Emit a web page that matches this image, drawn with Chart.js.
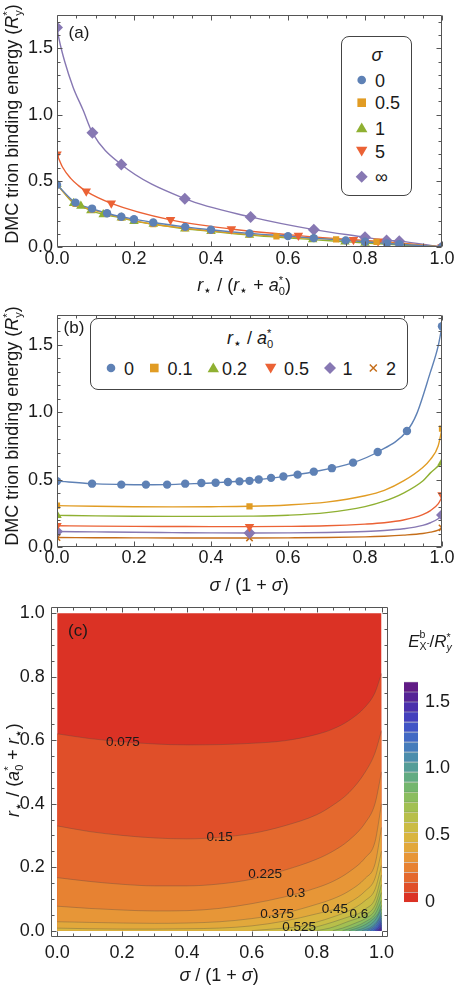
<!DOCTYPE html>
<html><head><meta charset="utf-8">
<script src="https://cdn.jsdelivr.net/npm/chart.js@4.4.1/dist/chart.umd.min.js"></script>
<style>
html,body{margin:0;padding:0;background:#fff;}
body{width:460px;height:992px;position:relative;overflow:hidden;font-family:"Liberation Sans",Arial,sans-serif;color:#1a1a1a;}
canvas{position:absolute;}
.lbl{position:absolute;white-space:nowrap;font-size:18px;line-height:1;}
.rot{transform:translate(-50%,-50%) rotate(-90deg);}
.ctr{transform:translate(-50%,-50%);}
.st{display:inline-block;vertical-align:-0.32em;font-size:0.62em;line-height:0.95;text-align:left;}
.st span{display:block;}
.sb{font-size:0.75em;vertical-align:-0.25em;line-height:0;}
.leg{position:absolute;border:1px solid #444;border-radius:8px;background:#fff;}
</style></head>
<body>
<canvas id="cA" width="460" height="300" style="left:0;top:0"></canvas>
<canvas id="cB" width="460" height="300" style="left:0;top:300px"></canvas>
<canvas id="cC" width="400" height="402" style="left:0;top:590px"></canvas>
<canvas id="cBar" width="70" height="260" style="left:390px;top:660px"></canvas>

<div class="lbl rot" style="left:13px;top:124px">DMC trion binding energy (<i>R</i><span class="st"><span>*</span><span>y</span></span>)</div>
<div class="lbl rot" style="left:13px;top:426px">DMC trion binding energy (<i>R</i><span class="st"><span>*</span><span>y</span></span>)</div>
<div class="lbl rot" style="left:14px;top:770px"><i>r</i><span class="sb">⋆</span> / (<i>a</i><span class="st"><span>*</span><span>0</span></span> + <i>r</i><span class="sb">⋆</span>)</div>
<div class="lbl ctr" style="left:244px;top:286px"><i>r</i><span class="sb">⋆</span> / (<i>r</i><span class="sb">⋆</span> + <i>a</i><span class="st"><span>*</span><span>0</span></span>)</div>
<div class="lbl ctr" style="left:249px;top:585px"><i>σ</i> / (1 + <i>σ</i>)</div>
<div class="lbl ctr" style="left:219px;top:975px"><i>σ</i> / (1 + <i>σ</i>)</div>
<div class="lbl ctr" style="left:79px;top:32px;font-size:17px">(a)</div>
<div class="lbl ctr" style="left:74px;top:327px;font-size:17px">(b)</div>
<div class="lbl ctr" style="left:78px;top:630px;font-size:17px">(c)</div>
<div class="lbl ctr" style="left:430px;top:640px;font-size:17px"><i>E</i><span class="st"><span>b</span><span>X<sup style="font-size:0.8em">-</sup></span></span>/<i>R</i><span class="st"><span>*</span><span><i>y</i></span></span></div>

<div class="leg" style="left:341px;top:36px;width:69px;height:158px"></div>
<svg style="position:absolute;left:0;top:0" width="460" height="300">
  <g font-size="18" font-family="Liberation Sans" fill="#1a1a1a">
  <text x="377" y="61" font-style="italic" text-anchor="middle">σ</text>
  <circle cx="361.7" cy="80" r="4.3" fill="#5e81b5"/><text x="375" y="86.5">0</text>
  <rect x="357.4" y="98.4" width="8.6" height="8.6" fill="#e19c24"/><text x="375" y="109">0.5</text>
  <polygon points="361.7,122.5 356,132.3 367.4,132.3" fill="#8fb032"/><text x="375" y="134.5">1</text>
  <polygon points="361.7,156.5 356,146.7 367.4,146.7" fill="#eb6235"/><text x="375" y="158">5</text>
  <polygon points="361.7,170.7 367.7,176.7 361.7,182.7 355.7,176.7" fill="#8778b3"/><text x="375" y="183">∞</text>
  </g>
</svg>
<div class="leg" style="left:90px;top:318px;width:316px;height:70px"></div>
<div class="lbl ctr" style="left:250px;top:339px"><i>r</i><span class="sb">⋆</span> / <i>a</i><span class="st"><span>*</span><span>0</span></span></div>
<svg style="position:absolute;left:0;top:300px" width="460" height="100">
  <g font-size="18" font-family="Liberation Sans" fill="#1a1a1a">
  <circle cx="111" cy="68" r="4.3" fill="#5e81b5"/><text x="124" y="74.5">0</text>
  <rect x="150" y="63.7" width="8.6" height="8.6" fill="#e19c24"/><text x="167.5" y="74.5">0.1</text>
  <polygon points="213.3,62.5 207.6,72.3 219,72.3" fill="#8fb032"/><text x="222" y="74.5">0.2</text>
  <polygon points="270.7,73.5 265,63.7 276.4,63.7" fill="#eb6235"/><text x="284" y="74.5">0.5</text>
  <polygon points="330,62 336,68 330,74 324,68" fill="#8778b3"/><text x="342.5" y="74.5">1</text>
  <path d="M369.8,64.5 L376.8,71.5 M376.8,64.5 L369.8,71.5" stroke="#c56e1a" stroke-width="1.5"/><text x="386" y="74.5">2</text>
  </g>
</svg>

<script>
// ================= DATA =================
// Panel (a): x = r*/(r*+a0*), y = binding energy, one series per sigma
const aX_s0   = [0, 0.048, 0.091, 0.13, 0.167, 0.2, 0.25, 0.333, 0.4, 0.5, 0.6, 0.667, 0.75, 0.8, 0.857, 0.889, 1];
const aY_s0   = [0.47, 0.335, 0.29, 0.255, 0.228, 0.21, 0.185, 0.152, 0.13, 0.103, 0.082, 0.067, 0.05, 0.04, 0.027, 0.021, 0];
const aX_s05  = [0, 0.048, 0.091, 0.13, 0.167, 0.25, 0.333, 0.4, 0.5, 0.57, 0.667, 0.725, 0.83, 1];
const aY_s05  = [0.468, 0.325, 0.283, 0.25, 0.222, 0.172, 0.142, 0.122, 0.095, 0.08, 0.066, 0.058, 0.038, 0];
const aX_s1   = [0, 0.043, 0.062, 0.088, 0.12, 0.167, 0.2, 0.25, 0.332, 0.4, 0.5, 0.664, 0.748, 0.8, 1];
const aY_s1   = [0.476, 0.33, 0.31, 0.275, 0.246, 0.22, 0.195, 0.173, 0.138, 0.118, 0.09, 0.056, 0.04, 0.03, 0];
const aX_s5   = [0, 0.076, 0.141, 0.295, 0.453, 0.627, 0.77, 0.834, 1];
const aY_s5   = [0.70, 0.42, 0.33, 0.205, 0.136, 0.086, 0.055, 0.044, 0];
const aX_sInf = [0, 0.092, 0.167, 0.332, 0.503, 0.667, 0.8, 0.856, 0.889, 1];
const aY_sInf = [1.657, 0.862, 0.623, 0.365, 0.227, 0.131, 0.074, 0.05, 0.044, 0];
// fitted curves of panel (a) where they bend most
const aLX_s5   = [0, 0.015, 0.035, 0.055, 0.076, 0.141, 0.295, 0.453, 0.627, 0.77, 0.834, 1];
const aLY_s5   = [0.70, 0.60, 0.52, 0.465, 0.42, 0.33, 0.205, 0.136, 0.086, 0.055, 0.044, 0];
const aLX_sInf = [0, 0.005, 0.02, 0.042, 0.068, 0.092, 0.167, 0.332, 0.503, 0.667, 0.8, 0.856, 0.889, 1];
const aLY_sInf = [1.657, 1.574, 1.40, 1.205, 1.032, 0.862, 0.623, 0.365, 0.227, 0.131, 0.074, 0.05, 0.044, 0];

// Panel (b): x = sigma/(1+sigma), one series per r*/a0*
const bX_r0   = [0, 0.091, 0.167, 0.231, 0.286, 0.333, 0.375, 0.412, 0.444, 0.474, 0.5, 0.524, 0.556, 0.588, 0.625, 0.667, 0.714, 0.769, 0.833, 0.909, 1];
const bY_r0   = [0.489, 0.470, 0.463, 0.463, 0.463, 0.470, 0.475, 0.477, 0.482, 0.487, 0.491, 0.501, 0.513, 0.523, 0.537, 0.559, 0.585, 0.626, 0.705, 0.861, 1.638];
const bLX_r0  = [0, 0.091, 0.167, 0.231, 0.286, 0.333, 0.412, 0.5, 0.588, 0.667, 0.769, 0.833, 0.909, 0.934, 0.969, 0.99, 1];
const bLY_r0  = [0.489, 0.470, 0.464, 0.462, 0.463, 0.468, 0.477, 0.493, 0.522, 0.558, 0.626, 0.705, 0.861, 0.986, 1.29, 1.49, 1.638];
const bX_3pt  = [0, 0.5, 1];
const bX_2pt  = [0, 1];
const bY_r01  = [0.307, 0.302, 0.878];
const bY_r02  = [0.235, 0.626];
const bY_r05  = [0.158, 0.151, 0.386];
const bY_r1   = [0.115, 0.103, 0.237];
const bY_r2   = [0.07, 0.067, 0.142];
const bLX     = [0, 0.1, 0.2, 0.3, 0.4, 0.5, 0.6, 0.7, 0.8, 0.85, 0.9, 0.95, 0.97, 0.99, 1];
const bLY_r01 = [0.307, 0.302, 0.299, 0.298, 0.299, 0.302, 0.312, 0.333, 0.38, 0.42, 0.49, 0.59, 0.65, 0.75, 0.878];
const bLY_r02 = [0.235, 0.231, 0.228, 0.227, 0.227, 0.229, 0.236, 0.255, 0.3, 0.34, 0.40, 0.49, 0.55, 0.60, 0.626];
const bLY_r05 = [0.158, 0.155, 0.153, 0.152, 0.151, 0.151, 0.153, 0.158, 0.17, 0.18, 0.2, 0.24, 0.27, 0.32, 0.37];
const bLY_r1  = [0.115, 0.112, 0.109, 0.107, 0.105, 0.104, 0.105, 0.108, 0.115, 0.122, 0.135, 0.16, 0.18, 0.21, 0.237];
const bLY_r2  = [0.07, 0.069, 0.068, 0.067, 0.067, 0.067, 0.068, 0.07, 0.075, 0.08, 0.088, 0.1, 0.11, 0.125, 0.142];

// Panel (c): contour levels and contour lines [x, y] (x = sigma/(1+sigma), y = r*/(a0*+r*))
const levels = [0.075, 0.15, 0.225, 0.3, 0.375, 0.45, 0.525, 0.6, 0.675, 0.75, 0.825, 0.9, 0.975, 1.05, 1.125, 1.2, 1.275, 1.35, 1.425, 1.5, 1.575];
const c0075 = [[0,0.62],[0.1,0.605],[0.2,0.595],[0.3,0.588],[0.4,0.585],[0.5,0.586],[0.6,0.59],[0.7,0.598],[0.8,0.618],[0.85,0.635],[0.9,0.662],[0.95,0.705],[0.98,0.75],[1,0.81]];
const c0150 = [[0,0.33],[0.1,0.312],[0.2,0.3],[0.3,0.292],[0.4,0.289],[0.5,0.294],[0.6,0.306],[0.7,0.33],[0.8,0.365],[0.85,0.395],[0.9,0.435],[0.95,0.5],[0.98,0.56],[1,0.63]];
const c0225 = [[0,0.167],[0.1,0.155],[0.2,0.146],[0.3,0.141],[0.4,0.141],[0.5,0.147],[0.6,0.162],[0.7,0.19],[0.8,0.225],[0.85,0.25],[0.9,0.285],[0.95,0.34],[0.98,0.4],[1,0.5]];
const c0300 = [[0,0.077],[0.1,0.07],[0.2,0.065],[0.3,0.062],[0.4,0.063],[0.5,0.07],[0.6,0.085],[0.7,0.106],[0.8,0.135],[0.85,0.155],[0.9,0.185],[0.95,0.23],[0.98,0.28],[1,0.4]];
const c0375 = [[0,0.028],[0.1,0.026],[0.2,0.024],[0.3,0.023],[0.4,0.024],[0.5,0.028],[0.6,0.038],[0.7,0.055],[0.8,0.083],[0.85,0.1],[0.9,0.125],[0.95,0.165],[0.98,0.21],[1,0.325]];
const c0450 = [[0,0.008],[0.1,0.006],[0.2,0.005],[0.3,0.005],[0.4,0.006],[0.5,0.008],[0.6,0.015],[0.7,0.03],[0.8,0.053],[0.85,0.066],[0.9,0.088],[0.95,0.125],[0.98,0.165],[1,0.25]];
const c0525 = [[0.6,0],[0.65,0.004],[0.7,0.008],[0.75,0.013],[0.8,0.027],[0.85,0.043],[0.9,0.063],[0.95,0.095],[0.98,0.13],[1,0.205]];
const c0600 = [[0.75,0],[0.8,0.012],[0.85,0.027],[0.9,0.044],[0.93,0.054],[0.95,0.068],[0.98,0.1],[1,0.175]];
const c0675 = [[0.8,0],[0.84,0.008],[0.9,0.03],[0.95,0.05],[0.98,0.08],[1,0.145]];
const c0750 = [[0.85,0],[0.88,0.008],[0.92,0.024],[0.95,0.038],[0.98,0.065],[1,0.12]];
const c0825 = [[0.88,0],[0.92,0.013],[0.95,0.028],[0.98,0.052],[1,0.095]];
const c0900 = [[0.9,0],[0.94,0.014],[0.97,0.033],[0.99,0.055],[1,0.08]];
const c0975 = [[0.92,0],[0.95,0.01],[0.98,0.033],[1,0.068]];
const c1050 = [[0.94,0],[0.97,0.013],[0.99,0.035],[1,0.057]];
const c1125 = [[0.955,0],[0.98,0.016],[1,0.047]];
const c1200 = [[0.965,0],[0.985,0.015],[1,0.04]];
const c1275 = [[0.975,0],[0.99,0.014],[1,0.032]];
const c1350 = [[0.98,0],[0.993,0.012],[1,0.025]];
const c1425 = [[0.985,0],[0.996,0.009],[1,0.018]];
const c1500 = [[0.99,0],[1,0.01]];
const c1575 = [[0.995,0],[1,0.004]];
const contours = [c0075,c0150,c0225,c0300,c0375,c0450,c0525,c0600,c0675,c0750,c0825,c0900,c0975,c1050,c1125,c1200,c1275,c1350,c1425,c1500,c1575];
// band colours, from 0 upward in steps of 0.075 (22 bands, 0 .. 1.65)
const bandColors = ['#db3225','#e04f29','#e4692e','#e78232','#e79637','#e2a83b','#d9b53f','#cbbc44','#b8bf4a','#a2c052','#8bbd5f','#74b66e','#62ab82','#559d98','#4c8dac','#467cbb','#4269c4','#4154c6','#4440bd','#4b30ac','#562496','#601b85'];
const bandStep = 0.075;
const contourLabels = [['0.075',0.2025,0.593],['0.15',0.501,0.295],['0.225',0.641,0.178],['0.3',0.736,0.119],['0.375',0.678,0.052],['0.45',0.856,0.067],['0.6',0.93,0.052],['0.525',0.746,0.012]];

// ================= HELPERS =================
const FONT = '"Liberation Sans", Arial, sans-serif';
Chart.defaults.font.family = FONT;
Chart.defaults.color = '#1a1a1a';
const COL = {blue:'#5e81b5', orange:'#e19c24', green:'#8fb032', red:'#eb6235', purple:'#8778b3', brown:'#c56e1a'};
const pts = (xs, ys) => xs.map((x,i)=>({x, y:ys[i]}));
const pairPts = arr => arr.map(p=>({x:p[0], y:p[1]}));
function lineDs(xs, ys, color){
  return {data:pts(xs,ys), showLine:true, borderColor:color, borderWidth:1.4, pointRadius:0, fill:false, cubicInterpolationMode:'monotone', order:5};
}
function markDs(xs, ys, color, style, r, rot){
  return {data:pts(xs,ys), showLine:false, pointStyle:style, pointRadius:r, pointRotation:rot||0,
    backgroundColor:color, borderColor:color, borderWidth: style==='crossRot'?1.5:0, order:1};
}
function framePlugin(cfg){
  return {id:'frame', afterDraw(chart){
    const {ctx, chartArea:a} = chart, xs = chart.scales.x, ys = chart.scales.y;
    ctx.save(); ctx.strokeStyle = cfg.color; ctx.lineWidth = 1;
    const L=Math.round(a.left)+0.5, R=Math.round(a.right)-0.5, T=Math.round(a.top)+0.5, B=Math.round(a.bottom)-0.5;
    ctx.beginPath(); ctx.rect(L,T,R-L,B-T);
    const isMaj = (v,m) => Math.abs(v/m - Math.round(v/m)) < 1e-6;
    for(let i=0;;i++){ const v=cfg.x0+i*cfg.xMinor; if(v>cfg.x1+1e-9) break;
      const len = isMaj(v,cfg.xMajor)?cfg.maj:cfg.min; const p=Math.round(xs.getPixelForValue(v))+0.5;
      ctx.moveTo(p,B); ctx.lineTo(p,B-len); ctx.moveTo(p,T); ctx.lineTo(p,T+len); }
    for(let i=0;;i++){ const v=cfg.y0+i*cfg.yMinor; if(v>cfg.y1+1e-9) break;
      const len = isMaj(v,cfg.yMajor)?cfg.maj:cfg.min; const p=Math.round(ys.getPixelForValue(v))+0.5;
      ctx.moveTo(L,p); ctx.lineTo(L+len,p); ctx.moveTo(R,p); ctx.lineTo(R-len,p); }
    ctx.stroke(); ctx.restore();
  }};
}
const tickFont = {size:18, family:FONT};
function xScale(min,max,vals,h,pad){
  return {type:'linear', min, max, afterBuildTicks:s=>{s.ticks=vals.map(v=>({value:v}));},
    ticks:{callback:v=>v.toFixed(1), font:tickFont, color:'#1a1a1a', padding:pad, maxRotation:0, autoSkip:false},
    grid:{display:false, drawTicks:false}, border:{display:false}, afterFit:s=>{s.height=h;}};
}
function yScale(min,max,vals,w,pad){
  return {type:'linear', min, max, afterBuildTicks:s=>{s.ticks=vals.map(v=>({value:v}));},
    ticks:{callback:v=>v.toFixed(1), font:tickFont, color:'#1a1a1a', padding:pad, autoSkip:false},
    grid:{display:false, drawTicks:false}, border:{display:false}, afterFit:s=>{s.width=w;}};
}
const baseOpts = {responsive:false, animation:false, events:[], plugins:{legend:{display:false}, tooltip:{enabled:false}}};

// ================= PANEL (a) =================
new Chart(document.getElementById('cA'), {
  type:'line',
  data:{datasets:[
    lineDs(aX_s0, aY_s0, COL.blue), lineDs(aX_s05, aY_s05, COL.orange), lineDs(aX_s1, aY_s1, COL.green),
    lineDs(aLX_s5, aLY_s5, COL.red), lineDs(aLX_sInf, aLY_sInf, COL.purple),
    markDs(aX_s0, aY_s0, COL.blue, 'circle', 4.2), markDs(aX_s05, aY_s05, COL.orange, 'rect', 4.4),
    markDs(aX_s1, aY_s1, COL.green, 'triangle', 5.5), markDs(aX_s5, aY_s5, COL.red, 'triangle', 5.5, 180),
    markDs(aX_sInf, aY_sInf, COL.purple, 'rectRot', 6)
  ]},
  options:{...baseOpts, layout:{padding:{top:9, right:18, left:0, bottom:0}},
    scales:{x:xScale(0,1,[0,0.2,0.4,0.6,0.8,1],53,1), y:yScale(0,1.753,[0,0.5,1,1.5],57,4)}},
  plugins:[framePlugin({color:'#555', x0:0, x1:1, xMinor:0.05, xMajor:0.2, y0:0, y1:1.75, yMinor:0.1, yMajor:0.5, maj:5, min:3})]
});

// ================= PANEL (b) =================
new Chart(document.getElementById('cB'), {
  type:'line',
  data:{datasets:[
    lineDs(bLX_r0, bLY_r0, COL.blue), lineDs(bLX, bLY_r01, COL.orange), lineDs(bLX, bLY_r02, COL.green),
    lineDs(bLX, bLY_r05, COL.red), lineDs(bLX, bLY_r1, COL.purple), lineDs(bLX, bLY_r2, COL.brown),
    markDs(bX_r0, bY_r0, COL.blue, 'circle', 4.2), markDs(bX_3pt, bY_r01, COL.orange, 'rect', 4.4),
    markDs(bX_2pt, bY_r02, COL.green, 'triangle', 5.5), markDs(bX_3pt, bY_r05, COL.red, 'triangle', 5.5, 180),
    markDs(bX_3pt, bY_r1, COL.purple, 'rectRot', 6), markDs(bX_3pt, bY_r2, COL.brown, 'crossRot', 4.5)
  ]},
  options:{...baseOpts, layout:{padding:{top:7, right:18, left:0, bottom:0}},
    scales:{x:xScale(0,1,[0,0.2,0.4,0.6,0.8,1],53,0), y:yScale(0,1.723,[0,0.5,1,1.5],57,4)}},
  plugins:[framePlugin({color:'#555', x0:0, x1:1, xMinor:0.05, xMajor:0.2, y0:0, y1:1.7, yMinor:0.1, yMajor:0.5, maj:5, min:3})]
});

// ================= PANEL (c) =================
const cDatasets = [{data:[{x:0,y:1},{x:1,y:1}], backgroundColor:bandColors[0], borderWidth:0, pointRadius:0, fill:{value:0}, order:100}];
contours.forEach((c,k)=>{
  cDatasets.push({data:pairPts(c), backgroundColor:bandColors[k+1], borderColor:'rgba(70,70,70,0.45)', borderWidth:0.7,
    pointRadius:0, fill:{value:0}, cubicInterpolationMode:'monotone', order:90-k});
});
const contourLabelPlugin = {id:'clabels', afterDatasetsDraw(chart){
  const {ctx} = chart, xs=chart.scales.x, ys=chart.scales.y;
  ctx.save(); ctx.font = '13.5px '+FONT; ctx.fillStyle='#1a1a1a'; ctx.textAlign='center'; ctx.textBaseline='middle';
  contourLabels.forEach(([t,x,y])=>ctx.fillText(t, xs.getPixelForValue(x), ys.getPixelForValue(y)));
  ctx.restore();
}};
new Chart(document.getElementById('cC'), {
  type:'line',
  data:{datasets:cDatasets},
  options:{...baseOpts, layout:{padding:{top:11, right:12, left:0, bottom:0}},
    scales:{x:xScale(-0.02,1.02,[0,0.2,0.4,0.6,0.8,1],55,5), y:yScale(-0.02,1.02,[0,0.2,0.4,0.6,0.8,1],50.7,6)}},
  plugins:[contourLabelPlugin, framePlugin({color:'#555', x0:0, x1:1, xMinor:0.05, xMajor:0.2, y0:0, y1:1, yMinor:0.05, yMajor:0.2, maj:5, min:3})]
});

// ================= COLOUR BAR =================
new Chart(document.getElementById('cBar'), {
  type:'bar',
  data:{labels:[''], datasets:bandColors.map(c=>({data:[bandStep], backgroundColor:c, borderColor:'rgba(0,0,0,0.18)', borderWidth:{top:1}, borderSkipped:false, barPercentage:1, categoryPercentage:1}))},
  options:{...baseOpts, layout:{padding:{top:21.6, left:14, bottom:14, right:0}},
    scales:{x:{display:false, stacked:true},
      y:{position:'right', stacked:true, min:0, max:1.65, afterBuildTicks:s=>{s.ticks=[0,0.5,1,1.5].map(v=>({value:v}));},
        ticks:{callback:v=>v===0?'0':v.toFixed(1), font:tickFont, color:'#1a1a1a', padding:7},
        grid:{display:false, drawTicks:false}, border:{display:false}, afterFit:s=>{s.width=42;}}}}
});
</script>
</body></html>
